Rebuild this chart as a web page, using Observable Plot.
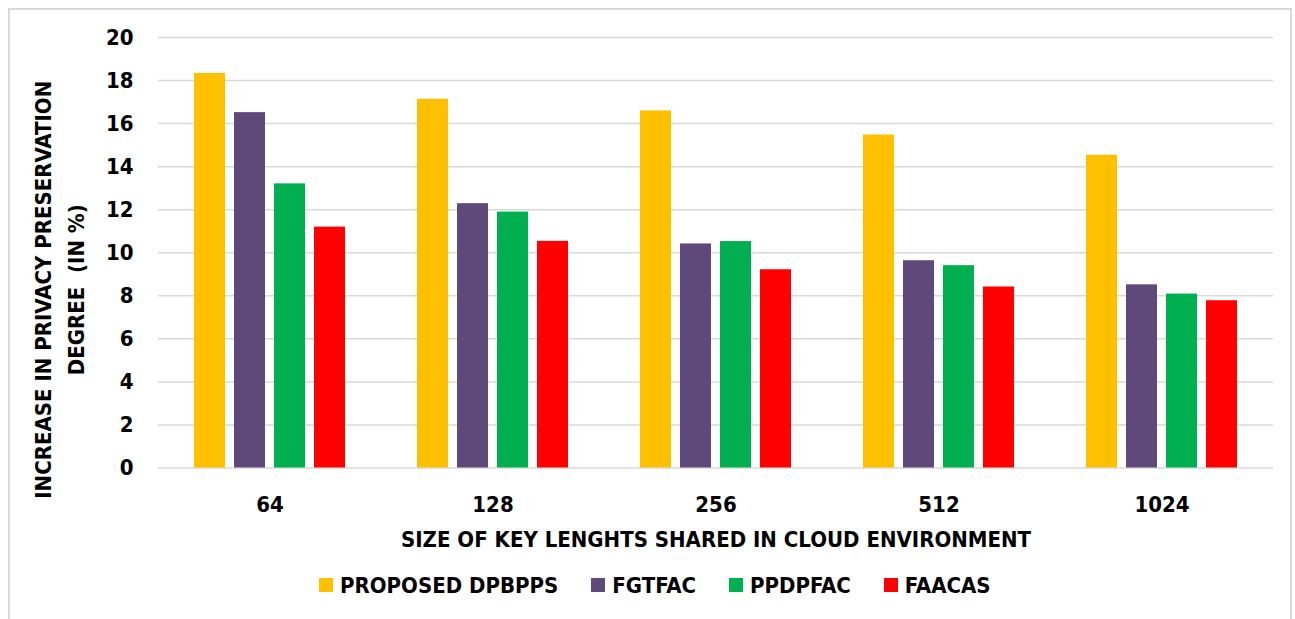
<!DOCTYPE html>
<html>
<head>
<meta charset="utf-8">
<script src="https://cdn.jsdelivr.net/npm/d3@7"></script>
<script src="https://cdn.jsdelivr.net/npm/@observablehq/plot@0.6"></script>
<style>
  body { margin: 0; background: #fff; }
  #page { position: relative; width: 1295px; height: 619px; overflow: hidden; }
  #border { position: absolute; left: 8px; top: 8px; width: 1280px; height: 700px; border: 2px solid #d9d9d9; }
  #chart { position: relative; }
  #legend {
    position: relative; display: flex; align-items: center; height: 40px; padding-left: 319px;
    font-family: "DejaVu Sans Condensed", "DejaVu Sans", sans-serif; font-weight: bold; font-size: 22px; color: #000;
  }
  .item { display: flex; align-items: center; margin-right: 33px; }
  .swatch { width: 14px; height: 14px; margin-right: 7px; }
</style>
</head>
<body>
<div id="page">
  <div id="border"></div>
  <div id="chart"></div>
  <div id="legend"></div>
</div>
<script>
// Key sizes on the x axis and the four compared schemes
const keySizes = ["64", "128", "256", "512", "1024"];
const methods = ["PROPOSED DPBPPS", "FGTFAC", "PPDPFAC", "FAACAS"];
const methodColors = ["#FFC000", "#5F497A", "#00B050", "#FF0000"];

// Increase in privacy preservation degree (%) per key size
const proposedDpbpps = [18.33, 17.13, 16.59, 15.47, 14.53];
const fgtfac = [16.51, 12.28, 10.41, 9.63, 8.51];
const ppdpfac = [13.20, 11.89, 10.52, 9.40, 8.08];
const faacas = [11.19, 10.53, 9.21, 8.41, 7.77];

const yTicks = [0, 2, 4, 6, 8, 10, 12, 14, 16, 18, 20];
const yTitle = "INCREASE IN PRIVACY PRESERVATION\nDEGREE  (IN %)";
const xTitle = "SIZE OF KEY LENGHTS SHARED IN CLOUD ENVIRONMENT";

const seriesValues = [proposedDpbpps, fgtfac, ppdpfac, faacas];
const rows = keySizes.flatMap((key, i) =>
  methods.map((method, j) => ({key, method, value: seriesValues[j][i]}))
);

const font = `"DejaVu Sans Condensed", "DejaVu Sans", sans-serif`;

const chart = Plot.plot({
  width: 1295,
  height: 565,
  marginLeft: 157,
  marginRight: 21,
  marginTop: 37,
  marginBottom: 97.5,
  style: `font-family: ${font}; font-size: 22px; font-weight: bold; color: #000; background: transparent; overflow: visible;`,
  fx: {domain: keySizes, padding: 0, label: null, axis: null},
  x: {domain: methods, paddingInner: 0.213, paddingOuter: 0.853, axis: null},
  y: {domain: [0, 20], label: null},
  color: {domain: methods, range: methodColors},
  marks: [
    Plot.gridY(yTicks, {stroke: "#d9d9d9", strokeOpacity: 1, strokeWidth: 1.5}),
    Plot.barY(rows, {fx: "key", x: "method", y: "value", fill: "method"}),
    Plot.axisY(yTicks, {tickSize: 0, tickPadding: 25, label: null, fill: "#000"}),
    Plot.axisFx({anchor: "bottom", tickSize: 0, tickPadding: 28, label: null, fill: "#000"}),
    Plot.text([yTitle], {
      fx: ["64"], text: d => d, frameAnchor: "left", textAnchor: "middle",
      rotate: -90, dx: -102, dy: 37, lineHeight: 1.5, fill: "#000"
    }),
    Plot.text([xTitle], {
      fx: ["256"], text: d => d, frameAnchor: "bottom", dy: 78.5, fill: "#000"
    })
  ]
});
document.getElementById("chart").appendChild(chart);

// Legend below the chart
const legend = document.getElementById("legend");
methods.forEach((m, i) => {
  const item = document.createElement("div");
  item.className = "item";
  const sw = document.createElement("span");
  sw.className = "swatch";
  sw.style.background = methodColors[i];
  const label = document.createElement("span");
  label.textContent = m;
  item.appendChild(sw);
  item.appendChild(label);
  legend.appendChild(item);
});
</script>
</body>
</html>
